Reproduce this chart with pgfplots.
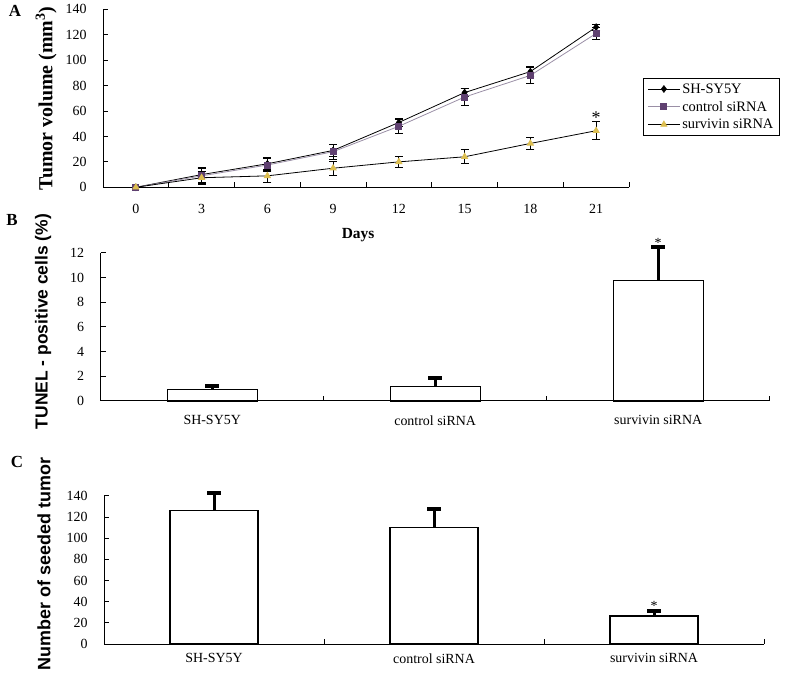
\documentclass[border=0pt]{standalone}
\usepackage{fontspec}
\setmainfont{Liberation Serif}
\newfontfamily\labsans{Liberation Sans}
\usepackage{pgfplots}
\pgfplotsset{compat=1.18}
\definecolor{ctrlpurple}{HTML}{5F4070}
\definecolor{ctrlline}{HTML}{9A8FA6}
\definecolor{survy}{HTML}{DCBE50}

\pgfplotstableread{
day sh she ct cte sv sve
0 0 0 0 0 0 0
3 10 6 9 6 7.5 5
6 18.5 5 17.5 5 9 5
9 29 5 28 6 15 5.5
12 51 3 48 5.5 20 4
15 74.5 3 71 6.5 24 5.5
18 91 4 88 6.5 34.5 5
21 126 2.5 121 4.5 44.5 7
}\tumor

\pgfplotstableread{
x tunel tunele seeded seedede
0 0.95 0.25 126 17
1 1.2 0.65 110 18
2 9.8 2.7 26.5 4.5
}\bars

\pgfplotsset{
 panel/.style={
  scale only axis,
  axis lines*=left,
  axis line style={-, line width=1bp, black},
  tick style={line width=1bp, black},
  tick align=inside,
  major tick length=5bp, minor tick length=5bp,
  ticklabel style={font=\fontsize{14}{16}\selectfont},
  /pgf/number format/assume math mode=true,
  clip=false,
  yticklabel style={xshift=-13bp},
 },
 linesty/.style={line width=0.8bp,
  error bars/y dir=both, error bars/y explicit,
  error bars/error bar style={black, line width=0.8bp},
  error bars/error mark options={rotate=90, mark size=4bp, line width=0.8bp, black}},
 barsty/.style={ybar, bar width=#1, fill=white, draw=black, line width=1.2bp,
  error bars/y dir=plus, error bars/y explicit,
  error bars/error bar style={black, line width=3bp},
  error bars/error mark options={rotate=90, mark size=7bp, line width=4bp, black}},
}

\begin{document}
\begin{tikzpicture}
\path[use as bounding box] (0bp,0bp) rectangle (800bp,676bp);

% Panel A
\begin{axis}[panel, at={(103bp,488.7bp)}, anchor=south west, width=526bp, height=178bp,
 xmin=-1.5, xmax=22.5, ymin=0, ymax=140,
 xtick={-1.5,1.5,...,22.5}, xticklabels={},
 extra x ticks={0,3,...,21},
 extra x tick style={major tick length=0pt, xticklabel style={yshift=-13.5bp}},
 ytick={0,20,...,140},
 xlabel={\bfseries Days},
 xlabel style={at={(axis description cs:0.485,-0.268)}, anchor=center, font=\fontsize{15.5}{17}\selectfont},
 ylabel={\bfseries Tumor volume (mm\textsuperscript{3})},
 ylabel style={at={(axis description cs:-0.108,0.5)}, anchor=center, font=\fontsize{20}{22}\selectfont},
 legend style={at={(axis description cs:1.0266,0.614)}, anchor=north west, draw=black, line width=1bp,
   font=\fontsize{14.5}{16}\selectfont, row sep=2.5bp, inner xsep=4bp, inner ysep=3bp},
 legend cell align=left,
 legend image code/.code={\draw[mark repeat=2,mark phase=2,#1] plot coordinates {(0bp,0bp) (16bp,0bp) (32bp,0bp)};},
]
\addplot[black, linesty, mark=diamond*, mark size=3.5bp, mark options={fill=black, draw=black, line width=0.5bp}]
 table[x=day, y=sh, y error=she]{\tumor};
\addlegendentry{SH-SY5Y}
\addplot[ctrlline, linesty, mark=square*, mark size=3bp, mark options={fill=ctrlpurple, draw=ctrlpurple}]
 table[x=day, y=ct, y error=cte]{\tumor};
\addlegendentry{control siRNA}
\addplot[black, linesty, mark=triangle*, mark size=3.5bp, mark options={fill=survy, draw=survy}]
 table[x=day, y=sv, y error=sve]{\tumor};
\addlegendentry{survivin siRNA}
\node[font=\fontsize{18}{18}\selectfont] at (axis cs:21,55) {*};
\end{axis}

% Panel B
\begin{axis}[panel, at={(100.7bp,275bp)}, anchor=south west, width=669bp, height=148bp,
 xmin=-0.5, xmax=2.5, ymin=0, ymax=12,
 xtick={0.5,1.5,2.5}, xticklabels={},
 extra x ticks={0,1,2}, extra x tick labels={SH-SY5Y,control siRNA,survivin siRNA},
 extra x tick style={major tick length=0pt, xticklabel style={yshift=-11bp}},
 ytick={0,2,...,12},
 ylabel={\labsans\bfseries TUNEL - positive cells (\%)},
 ylabel style={at={(axis description cs:-0.0862,0.537)}, anchor=center, font=\fontsize{17.5}{19}\selectfont},
]
\addplot[barsty=90bp] table[x=x, y=tunel, y error=tunele]{\bars};
\node[font=\fontsize{14}{14}\selectfont] at (axis cs:2,12.85) {*};
\end{axis}

% Panel C
\begin{axis}[panel, at={(104bp,32bp)}, anchor=south west, width=660bp, height=148bp,
 xmin=-0.5, xmax=2.5, ymin=0, ymax=140,
 xtick={0.5,1.5,2.5}, xticklabels={},
 extra x ticks={0,1,2}, extra x tick labels={SH-SY5Y,control siRNA,survivin siRNA},
 extra x tick style={major tick length=0pt, xticklabel style={yshift=-6bp}},
 ytick={0,20,...,140},
 ylabel={\labsans\bfseries Number of seeded tumor},
 ylabel style={at={(axis description cs:-0.0909,0.54)}, anchor=center, font=\fontsize{18}{20}\selectfont},
]
\addplot[barsty=88bp] table[x=x, y=seeded, y error=seedede]{\bars};
\node[font=\fontsize{14}{14}\selectfont] at (axis cs:2,36) {*};
\end{axis}

\node[font=\bfseries\fontsize{17}{17}\selectfont] at (15bp,665bp) {A};
\node[font=\bfseries\fontsize{17}{17}\selectfont] at (12bp,456bp) {B};
\node[font=\bfseries\fontsize{17}{17}\selectfont] at (17bp,214bp) {C};
\end{tikzpicture}
\end{document}
